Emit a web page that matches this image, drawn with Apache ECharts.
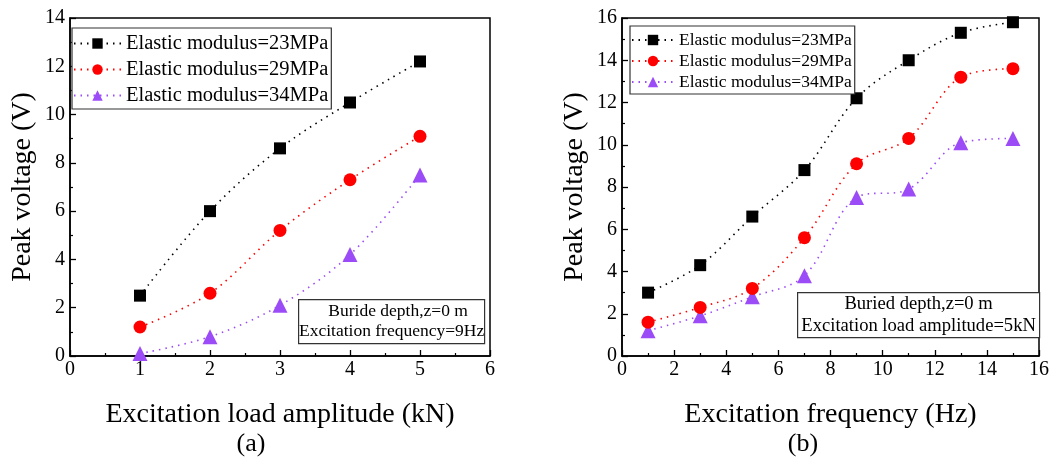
<!DOCTYPE html>
<html>
<head>
<meta charset="utf-8">
<script src="https://cdn.jsdelivr.net/npm/echarts@6/dist/echarts.min.js"></script>
<style>
html,body{margin:0;padding:0;background:#fff;}
#c{width:1056px;height:458px;}
</style>
</head>
<body>
<div id="c"></div>
<script>
const seriesNames = ['Elastic modulus=23MPa', 'Elastic modulus=29MPa', 'Elastic modulus=34MPa'];
const loadAmplitude = [1, 2, 3, 4, 5];
const loadE23 = [2.5, 6.0, 8.6, 10.5, 12.2];
const loadE29 = [1.2, 2.6, 5.2, 7.3, 9.1];
const loadE34 = [0.1, 0.8, 2.1, 4.2, 7.5];
const frequency = [1, 3, 5, 7, 9, 11, 13, 15];
const freqE23 = [3.0, 4.3, 6.6, 8.8, 12.2, 14.0, 15.3, 15.8];
const freqE29 = [1.6, 2.3, 3.2, 5.6, 9.1, 10.3, 13.2, 13.6];
const freqE34 = [1.2, 1.9, 2.8, 3.8, 7.5, 7.9, 10.1, 10.3];

const FONT = '"Liberation Serif", "Times New Roman", serif';
const colors = ['#000000', '#ff0000', '#9c4cf7'];
const symbols = ['rect', 'circle', 'triangle'];
const sizes = [12, 13, 15];

function pair(xs, ys) { return xs.map((x, i) => [x, ys[i]]); }

function mkSeries(idx, xs, ys, k) {
  return {
    name: seriesNames[k], type: 'line', xAxisIndex: idx, yAxisIndex: idx,
    data: pair(xs, ys), smooth: 0.35,
    symbol: symbols[k], symbolSize: sizes[k],
    itemStyle: { color: colors[k] },
    lineStyle: { color: colors[k], type: [1.5, 5], width: 1.6 },
    z: 3 - k
  };
}

function xAx(idx, max, interval, name) {
  return {
    type: 'value', gridIndex: idx, min: 0, max: max, interval: interval,
    name: name, nameLocation: 'middle', nameGap: 45,
    nameTextStyle: { fontFamily: FONT, fontSize: 28, color: '#000' },
    axisLine: { onZero: false, lineStyle: { color: '#000', width: 1.5 } },
    axisTick: { inside: true, length: 6, lineStyle: { color: '#000', width: 1.3 } },
    minorTick: { show: true, splitNumber: 2, length: 3, lineStyle: { color: '#000', width: 1.2 } },
    axisLabel: { fontFamily: FONT, fontSize: 20, color: '#000', margin: 4 },
    splitLine: { show: false }
  };
}
function yAx(idx, max, interval) {
  return {
    type: 'value', gridIndex: idx, min: 0, max: max, interval: interval,
    name: 'Peak voltage (V)', nameLocation: 'middle', nameGap: 33, nameRotate: 90,
    nameTextStyle: { fontFamily: FONT, fontSize: 28, color: '#000' },
    axisLine: { onZero: false, lineStyle: { color: '#000', width: 1.5 } },
    axisTick: { inside: true, length: 6, lineStyle: { color: '#000', width: 1.3 } },
    minorTick: { show: true, splitNumber: 2, length: 3, lineStyle: { color: '#000', width: 1.2 } },
    axisLabel: { fontFamily: FONT, fontSize: 20, color: '#000', margin: 5 },
    splitLine: { show: false }
  };
}
function legend(left, top, fs, gap, iw) {
  return {
    data: seriesNames, orient: 'vertical', left: left, top: top,
    itemWidth: iw, itemHeight: 13, itemGap: gap,
    borderColor: '#333', borderWidth: 1.2, padding: [5, 3, 3, 1],
    backgroundColor: '#fff',
    textStyle: { fontFamily: FONT, fontSize: fs, color: '#000', padding: [0, 0, 0, 0] },
    selectedMode: false
  };
}
function note(x, y, w, h, lines, fs) {
  return {
    type: 'group', left: x, top: y,
    children: [
      { type: 'rect', shape: { x: 0, y: 0, width: w, height: h }, style: { fill: '#fff', stroke: '#333', lineWidth: 1.2 } },
      { type: 'text', x: w / 2, y: h / 2, style: { text: lines.join('\n'), font: fs + 'px ' + FONT, fill: '#000', textAlign: 'center', textVerticalAlign: 'middle', lineHeight: fs + 3 } }
    ]
  };
}

const chart = echarts.init(document.getElementById('c'), null, { renderer: 'canvas' });
chart.setOption({
  animation: false,
  backgroundColor: '#fff',
  grid: [
    { left: 70, right: 566, top: 18, bottom: 102, show: true, borderColor: '#000', borderWidth: 1.5 },
    { left: 622, right: 17, top: 18, bottom: 102, show: true, borderColor: '#000', borderWidth: 1.5 }
  ],
  xAxis: [xAx(0, 6, 1, 'Excitation load amplitude (kN)'), xAx(1, 16, 2, 'Excitation frequency (Hz)')],
  yAxis: [yAx(0, 14, 2), yAx(1, 16, 2)],
  legend: [legend(72, 28, 20.5, 5, 47), legend(630, 26, 17.5, 3, 42)],
  title: [
    { text: '(a)', left: 251, top: 431, textAlign: 'center', textStyle: { fontFamily: FONT, fontSize: 26, fontWeight: 'normal', color: '#000' }, padding: 0 },
    { text: '(b)', left: 803, top: 431, textAlign: 'center', textStyle: { fontFamily: FONT, fontSize: 26, fontWeight: 'normal', color: '#000' }, padding: 0 }
  ],
  graphic: [
    note(298, 299, 186, 44, ['   Buride depth,z=0 m', 'Excitation frequency=9Hz'], 17.5),
    note(797, 292, 242, 45, ['Buried depth,z=0 m', 'Excitation load amplitude=5kN'], 18.6)
  ],
  series: [
    mkSeries(0, loadAmplitude, loadE23, 0),
    mkSeries(0, loadAmplitude, loadE29, 1),
    mkSeries(0, loadAmplitude, loadE34, 2),
    mkSeries(1, frequency, freqE23, 0),
    mkSeries(1, frequency, freqE29, 1),
    mkSeries(1, frequency, freqE34, 2)
  ]
});
</script>
</body>
</html>
